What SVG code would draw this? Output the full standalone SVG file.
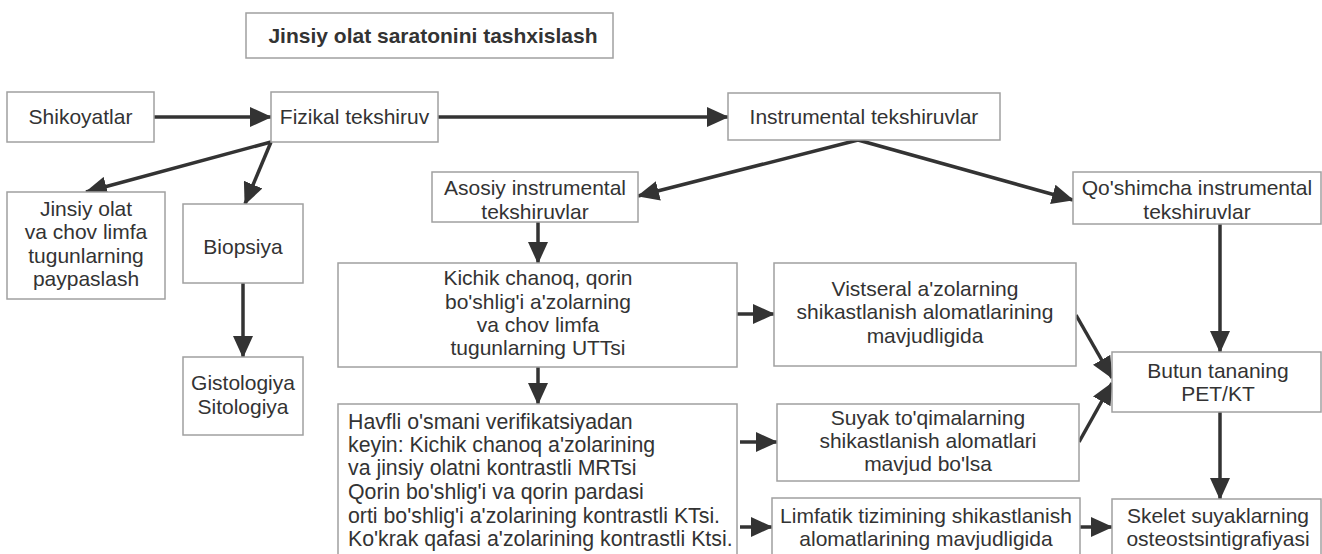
<svg xmlns="http://www.w3.org/2000/svg" width="1322" height="554" viewBox="0 0 1322 554">
<defs>
<style>
.box{fill:#ffffff;stroke:#a0a0a0;stroke-width:1.5}
.t{font-family:"Liberation Sans",Arial,sans-serif;font-size:21px;fill:#333333}
.c{text-anchor:middle}
.b{font-weight:bold;font-size:21px}
.h{font-size:21.3px}
.e{stroke:#333333;stroke-width:3.5;fill:none;marker-end:url(#ah)}
</style>
<marker id="ah" markerUnits="userSpaceOnUse" markerWidth="22" markerHeight="20" refX="21" refY="10" orient="auto">
<path d="M0,0 L22,10 L0,20 Z" fill="#333333"/>
</marker>
</defs>
<rect width="1322" height="554" fill="#ffffff"/>
<g id="connectors">
<line class="e" x1="154" y1="117" x2="271" y2="117"/>
<line class="e" x1="438" y1="117" x2="728" y2="117"/>
<line class="e" x1="271" y1="142" x2="86" y2="192"/>
<line class="e" x1="271" y1="142" x2="245" y2="204"/>
<line class="e" x1="858" y1="140" x2="638" y2="196"/>
<line class="e" x1="858" y1="140" x2="1073" y2="200"/>
<line class="e" x1="538" y1="222" x2="538" y2="263"/>
<line class="e" x1="538" y1="367" x2="538" y2="404"/>
<line class="e" x1="243" y1="283" x2="243" y2="357"/>
<line class="e" x1="737" y1="314" x2="774" y2="314"/>
<line class="e" x1="740" y1="442" x2="777" y2="442"/>
<line class="e" x1="740" y1="527" x2="772" y2="527"/>
<line class="e" x1="1220" y1="224" x2="1220" y2="352"/>
<line class="e" x1="1076" y1="315" x2="1112" y2="378"/>
<line class="e" x1="1079" y1="442" x2="1112" y2="383"/>
<line class="e" x1="1220" y1="412" x2="1220" y2="499"/>
<line class="e" x1="1080" y1="527" x2="1112" y2="527"/>
</g>
<g id="title">
<rect class="box" x="246" y="13" width="367" height="45"/>
<text class="t b c" x="433" y="43">Jinsiy olat saratonini tashxislash</text>
</g>
<g id="shikoyatlar">
<rect class="box" x="7" y="92" width="147" height="50"/>
<text class="t c" x="80.5" y="124">Shikoyatlar</text>
</g>
<g id="fizikal">
<rect class="box" x="271" y="92" width="167" height="50"/>
<text class="t c" x="354.5" y="124">Fizikal tekshiruv</text>
</g>
<g id="instrumental">
<rect class="box" x="728" y="93" width="272" height="47"/>
<text class="t c" x="864" y="124">Instrumental tekshiruvlar</text>
</g>
<g id="asosiy">
<rect class="box" x="432" y="172" width="206" height="50"/>
<text class="t c" x="535" y="195">Asosiy instrumental</text>
<text class="t c" x="535" y="219">tekshiruvlar</text>
</g>
<g id="qoshimcha">
<rect class="box" x="1073" y="172" width="248" height="52"/>
<text class="t c" x="1197" y="195">Qo'shimcha instrumental</text>
<text class="t c" x="1197" y="219">tekshiruvlar</text>
</g>
<g id="jinsiy">
<rect class="box" x="7" y="192" width="158" height="107"/>
<text class="t c" x="86" y="216">Jinsiy olat</text>
<text class="t c" x="86" y="239">va chov limfa</text>
<text class="t c" x="86" y="263">tugunlarning</text>
<text class="t c" x="86" y="286">paypaslash</text>
</g>
<g id="biopsiya">
<rect class="box" x="183" y="204" width="120" height="79"/>
<text class="t c" x="243" y="254">Biopsiya</text>
</g>
<g id="gistologiya">
<rect class="box" x="183" y="357" width="120" height="78"/>
<text class="t c" x="243" y="390">Gistologiya</text>
<text class="t c" x="243" y="414">Sitologiya</text>
</g>
<g id="kichik">
<rect class="box" x="338" y="263" width="399" height="104"/>
<text class="t c" x="538" y="285">Kichik chanoq, qorin</text>
<text class="t c" x="538" y="309">bo'shlig'i a'zolarning</text>
<text class="t c" x="538" y="332">va chov limfa</text>
<text class="t c" x="538" y="355">tugunlarning UTTsi</text>
</g>
<g id="havfli">
<rect class="box" x="338" y="404" width="399" height="160"/>
<text class="t h" x="348" y="429">Havfli o'smani verifikatsiyadan</text>
<text class="t h" x="348" y="452">keyin: Kichik chanoq a'zolarining</text>
<text class="t h" x="348" y="475">va jinsiy olatni kontrastli MRTsi</text>
<text class="t h" x="348" y="499">Qorin bo'shlig'i va qorin pardasi</text>
<text class="t h" x="348" y="523">orti bo'shlig'i a'zolarining kontrastli KTsi.</text>
<text class="t h" x="348" y="546">Ko'krak qafasi a'zolarining kontrastli Ktsi.</text>
</g>
<g id="vistseral">
<rect class="box" x="774" y="263" width="302" height="103"/>
<text class="t c" x="925" y="296">Vistseral a'zolarning</text>
<text class="t c" x="925" y="319">shikastlanish alomatlarining</text>
<text class="t c" x="925" y="343">mavjudligida</text>
</g>
<g id="suyak">
<rect class="box" x="777" y="404" width="302" height="77"/>
<text class="t c" x="928" y="425">Suyak to'qimalarning</text>
<text class="t c" x="928" y="448">shikastlanish alomatlari</text>
<text class="t c" x="928" y="471">mavjud bo'lsa</text>
</g>
<g id="limfatik">
<rect class="box" x="772" y="498" width="308" height="66"/>
<text class="t c" x="926" y="523">Limfatik tizimining shikastlanish</text>
<text class="t c" x="926" y="546">alomatlarining mavjudligida</text>
</g>
<g id="butun">
<rect class="box" x="1112" y="352" width="209" height="60"/>
<text class="t c" x="1218" y="378">Butun tananing</text>
<text class="t c" x="1218" y="401">PET/KT</text>
</g>
<g id="skelet">
<rect class="box" x="1112" y="499" width="209" height="65"/>
<text class="t c" x="1218" y="523">Skelet suyaklarning</text>
<text class="t c" x="1218" y="546">osteostsintigrafiyasi</text>
</g>
</svg>
